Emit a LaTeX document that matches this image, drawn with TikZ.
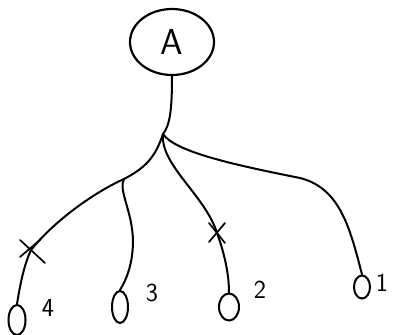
\documentclass[tikz,border=0pt]{standalone}
\usetikzlibrary{shapes.geometric,calc}
\begin{document}
\begin{tikzpicture}[x=1pt,y=-1pt,
  edge/.style={line width=2pt,line cap=round,line join=round},
  root/.style={draw,ellipse,line width=2.2pt,minimum width=84pt,minimum height=66pt,inner sep=0pt,font=\sffamily\fontsize{36}{36}\selectfont},
  leaf/.style={draw,ellipse,line width=2pt,inner sep=0pt},
  lbl/.style={font=\sffamily\fontsize{26}{26}\selectfont,inner sep=0pt},
  cross/.style={line width=1.7pt,line cap=round}]
\useasboundingbox (0,0) rectangle (394,335);
\node[root] (A) at (172,42) {A};
\node[leaf,minimum width=17pt,minimum height=30pt] (L4) at (17,320) {};
\node[leaf,minimum width=16pt,minimum height=32pt] (L3) at (120,307) {};
\node[leaf,minimum width=20pt,minimum height=27pt] (L2) at (229,307) {};
\node[leaf,minimum width=16pt,minimum height=23pt] (L1) at (362,287) {};
\node[lbl] (n4) at (48,308) {4};
\node[lbl] (n3) at (152,293) {3};
\node[lbl] (n2) at (260,290) {2};
\node[lbl] (n1) at (382,283) {1};
\coordinate (J) at (163,134);
\coordinate (S) at (124,179);
\coordinate (X4) at (31,250);
\coordinate (X2) at (217,233);
% root stem
\draw[edge] (A.south) .. controls (172,110) and (170,125) .. (J);
% branch 4
\draw[edge] (J) .. controls (155,158) and (145,168) .. (S)
  .. controls (95,192) and (55,220) .. (X4)
  .. controls (24,265) and (20,285) .. (L4.north);
% branch 3
\draw[edge] (S) .. controls (118,190) and (132,210) .. (133,240)
  .. controls (133,265) and (126,280) .. (L3.north);
% branch 2
\draw[edge] (J) .. controls (160,165) and (205,195) .. (X2)
  .. controls (225,255) and (229,275) .. (L2.north);
% branch 1
\draw[edge] (J) .. controls (175,152) and (235,165) .. (300,178)
  .. controls (340,188) and (350,228) .. (L1.north);
% crosses
\draw[cross] ($(X4)+(-11,-10)$) -- ($(X4)+(14,13)$);
\draw[cross] ($(X4)+(10,-11)$) -- ($(X4)+(-11,7)$);
\draw[cross] ($(X2)+(-8,-10)$) -- ($(X2)+(8,10)$);
\draw[cross] ($(X2)+(8,-10)$) -- ($(X2)+(-8,9)$);
\end{tikzpicture}
\end{document}
